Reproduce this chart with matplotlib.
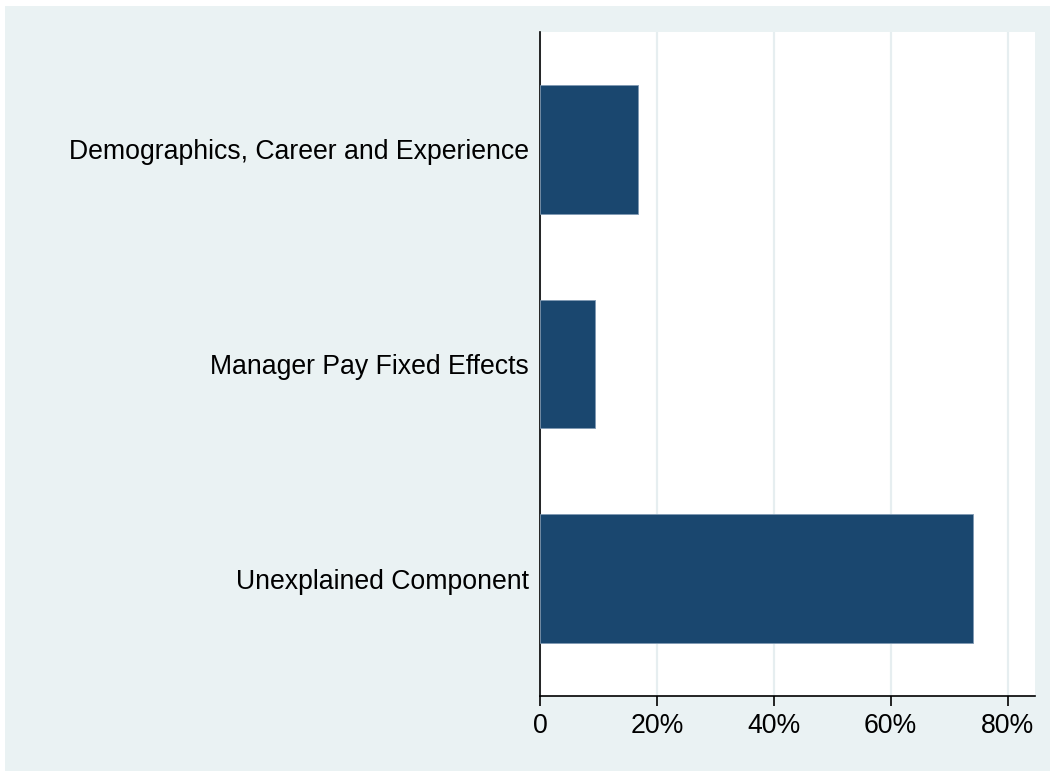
import matplotlib.pyplot as plt
from matplotlib.patches import Rectangle
from matplotlib.ticker import FuncFormatter

categories = ["Demographics, Career and Experience",
              "Manager Pay Fixed Effects",
              "Unexplained Component"]
shares = [16.8, 9.45, 74.1]
xticks = [0, 20, 40, 60, 80]

plt.rcParams["font.family"] = ["Liberation Sans", "DejaVu Sans"]

bg = "#EAF2F3"
bar_color = "#1A476F"

fig = plt.figure(figsize=(10.5, 7.71), dpi=100)
fig.patch.set_facecolor(bg)
# thin white margin on the left and top edges, like the original export
fig.patches.append(Rectangle((0, 0), 5 / 1050, 1, transform=fig.transFigure,
                             facecolor="white", edgecolor="none", zorder=-10))
fig.patches.append(Rectangle((0, 1 - 6 / 771), 1, 6 / 771, transform=fig.transFigure,
                             facecolor="white", edgecolor="none", zorder=-10))

ax = fig.add_axes([540 / 1050, 1 - 696 / 771, (1035 - 540) / 1050, (696 - 32) / 771])
ax.set_facecolor("white")

pos = list(range(len(categories)))
ax.barh(pos, shares, height=0.6, color=bar_color, edgecolor="#7F99B3", linewidth=0.6, zorder=3)

ax.set_ylim(2.545, -0.545)
ax.set_xlim(0, 84.7)
ax.set_xticks(xticks)
ax.xaxis.set_major_formatter(FuncFormatter(lambda v, p: "0" if v == 0 else f"{v:.0f}%"))
ax.set_yticks(pos)
ax.set_yticklabels(categories)

ax.grid(axis="x", color="#E6EEF0", linewidth=1.6, zorder=1)
ax.tick_params(axis="y", length=0, pad=8, labelsize=19.2)
ax.tick_params(axis="x", length=7, width=1.2, pad=5, labelsize=19.2, color="black")

for s in ["top", "right"]:
    ax.spines[s].set_visible(False)
for s in ["left", "bottom"]:
    ax.spines[s].set_linewidth(1.2)
    ax.spines[s].set_color("black")

fig.savefig("out.png", dpi=100, facecolor=fig.get_facecolor())
